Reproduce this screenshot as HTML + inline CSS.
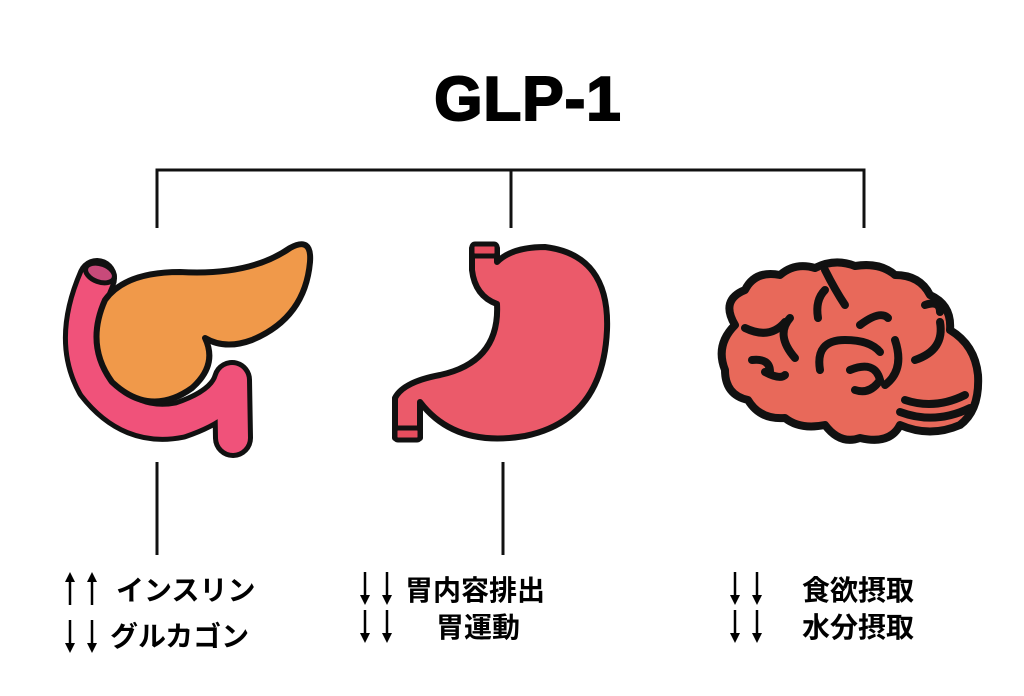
<!DOCTYPE html>
<html><head><meta charset="utf-8"><style>
html,body{margin:0;padding:0;background:#fff;}
svg{display:block}
text{font-family:"Liberation Sans","Noto Sans CJK JP",sans-serif;font-weight:bold;fill:#000}
</style></head><body>
<svg width="1024" height="696" viewBox="0 0 1024 696" xmlns="http://www.w3.org/2000/svg">
<defs>
<g id="up"><line x1="0" y1="6" x2="0" y2="33" stroke="#000" stroke-width="2.5"/><path d="M-5,10 L0,0 L5,10 Z" fill="#000"/></g>
<g id="dn"><line x1="0" y1="0" x2="0" y2="27" stroke="#000" stroke-width="2.5"/><path d="M-5,23 L0,33 L5,23 Z" fill="#000"/></g>
</defs>
<text x="528" y="120" font-size="62" text-anchor="middle" style="font-weight:900;letter-spacing:1px" stroke="#000" stroke-width="2">GLP-1</text>
<g stroke="#111" stroke-width="3" fill="none">
<path d="M157,228 V170 H864 V228 M511,170 V228"/>
<path d="M157,462 V555 M503,462 V555"/>
</g>
<!-- pancreas -->
<g stroke-linecap="round" stroke-linejoin="round" fill="none">
<path d="M97,278 Q70,340 95,385 Q130,430 180,420 Q225,405 232,380 L233,438" stroke="#111" stroke-width="40"/>
<path d="M97,278 Q70,340 95,385 Q130,430 180,420 Q225,405 232,380 L233,438" stroke="#f0527a" stroke-width="30"/>
</g>
<ellipse cx="100" cy="273" rx="15" ry="9" fill="#c84a7a" stroke="#111" stroke-width="5" transform="rotate(20 100 273)"/>
<path d="M105,300 Q125,272 180,272 Q250,276 290,248 Q312,236 310,262 Q305,318 252,340 Q225,350 205,338 Q218,365 192,388 Q150,418 112,382 Q85,345 105,300 Z" fill="#f0994a" stroke="#111" stroke-width="6" stroke-linejoin="round"/>
<!-- stomach -->
<path d="M472,248 L472,270 Q475,296 497,304 Q500,362 440,375 Q403,382 395,398 L395,438 L420,438 L420,402 Q455,448 525,436 Q603,420 607,330 Q610,255 545,247 Q512,247 497,262 L497,248 Z" fill="#eb5a6a" stroke="#111" stroke-width="6" stroke-linejoin="round"/>
<rect x="472" y="244" width="25" height="12" rx="3" fill="#e64d5e" stroke="#111" stroke-width="5"/>
<rect x="395" y="428" width="25" height="12" rx="3" fill="#e64d5e" stroke="#111" stroke-width="5"/>
<!-- brain -->
<path d="M735,325 Q720,300 745,290 Q755,270 780,275 Q795,262 815,268 Q835,258 855,266 Q880,262 895,275 Q920,275 930,295 Q952,305 950,330 Q975,345 978,375 Q980,410 960,425 Q930,438 900,425 Q890,445 860,438 Q840,445 825,425 Q800,430 785,418 Q760,420 748,400 Q725,395 725,370 Q715,345 735,325 Z" fill="#e8695a" stroke="#111" stroke-width="8" stroke-linejoin="round"/>
<g stroke="#111" stroke-width="8" fill="none" stroke-linecap="round">
<path d="M825,270 Q835,290 845,305 M825,290 Q815,300 818,318"/>
<path d="M745,328 Q770,340 785,322 M790,318 Q775,335 795,358"/>
<path d="M752,360 Q770,358 770,372 M765,372 Q780,380 785,375"/>
<path d="M820,370 Q815,340 845,340 Q870,340 880,352 M860,325 Q880,310 888,318"/>
<path d="M850,370 Q875,360 880,380 Q870,395 855,390 M895,340 Q905,370 885,385"/>
<path d="M940,322 Q945,350 915,360 M925,305 Q940,300 940,312"/>
<path d="M905,400 Q935,410 965,395 M900,412 Q935,425 970,408"/>
</g>
<!-- arrows -->
<use href="#up" x="70" y="572"/><use href="#up" x="92" y="572"/>
<use href="#dn" x="70" y="620"/><use href="#dn" x="92" y="620"/>
<use href="#dn" x="365" y="572"/><use href="#dn" x="387" y="572"/>
<use href="#dn" x="365" y="610"/><use href="#dn" x="387" y="610"/>
<use href="#dn" x="735" y="572"/><use href="#dn" x="757" y="572"/>
<use href="#dn" x="735" y="610"/><use href="#dn" x="757" y="610"/>
<!-- labels -->
<g font-size="28">
<text x="116" y="600">インスリン</text>
<text x="110" y="646">グルカゴン</text>
<text x="405" y="600">胃内容排出</text>
<text x="436" y="637">胃運動</text>
<text x="802" y="600">食欲摂取</text>
<text x="802" y="637">水分摂取</text>
</g>
</svg>
</body></html>
